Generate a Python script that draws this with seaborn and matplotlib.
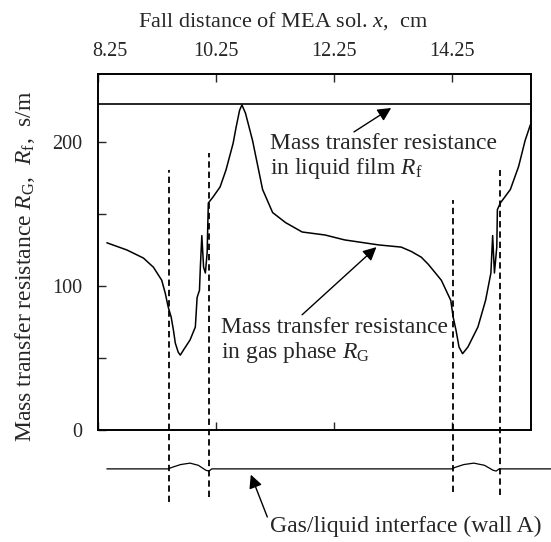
import matplotlib
matplotlib.use("Agg")
import matplotlib.pyplot as plt
import pandas as pd
import seaborn as sns
from matplotlib.transforms import ScaledTranslation

# ---- data ----
rg_x = [8.40, 8.74, 9.02, 9.19, 9.33, 9.39, 9.44, 9.49, 9.53, 9.56, 9.61, 9.645,
        9.70, 9.81, 9.90, 9.93, 9.97, 9.985, 10.01, 10.04, 10.07, 10.10, 10.12,
        10.20, 10.32, 10.42, 10.54, 10.59, 10.65, 10.69, 10.75, 10.87, 10.96,
        11.04, 11.21, 11.43, 11.71, 12.10, 12.43, 13.01, 13.39, 13.56, 13.73,
        13.85, 13.95, 14.07, 14.15, 14.23, 14.27, 14.32, 14.37, 14.43, 14.52,
        14.69, 14.82, 14.91, 14.94, 14.97, 15.01, 15.02, 15.07, 15.24, 15.38,
        15.49, 15.58]
rg_y = [130, 125, 119.4, 113, 104, 95, 85.4, 78.5, 69, 60.4, 54, 52,
        55.6, 62.5, 71.5, 92, 97, 113, 135, 113, 109, 123, 157.6,
        161.8, 168.8, 180.6, 199, 210, 222, 225.7, 220, 201, 183,
        167, 151, 144, 137.5, 135.4, 132, 128.5, 127, 124, 120,
        115, 110, 104, 97, 90, 78.5, 69, 57.6, 53, 57.6,
        71.5, 90, 109, 135, 109, 127, 153, 157.6, 167, 183,
        201, 212]
rf_level = 226.5

interface_x = [8.40, 9.44, 9.50, 9.65, 9.81, 9.95, 10.08, 10.13, 10.18,
               14.25, 14.30, 14.45, 14.62, 14.80, 14.95, 15.00, 15.05, 15.95]
interface_y = [-27, -27, -26, -24, -23, -24.5, -28, -28.5, -27,
               -27, -26, -24, -23, -24.5, -28, -28.5, -27, -27]

boundary_x = [9.46, 10.13, 14.27, 15.07]
boundary_top = [180.6, 192.0, 160.0, 180.6]
boundary_bottom = [-50.0, -46.5, -43.0, -45.0]

x_ticks = [8.25, 10.25, 12.25, 14.25]
x_tick_labels = ["8.25", "10.25", "12.25", "14.25"]
y_ticks = [0, 100, 200]
y_tick_labels = ["0", "100", "200"]
y_minor_ticks = [50, 150]

# ---- style ----
sns.set_style("ticks")
plt.rcParams["font.family"] = ["Liberation Serif", "DejaVu Serif"]
plt.rcParams["mathtext.fontset"] = "custom"
plt.rcParams["mathtext.rm"] = "Liberation Serif"
plt.rcParams["mathtext.it"] = "Liberation Serif:italic"
plt.rcParams["mathtext.bf"] = "Liberation Serif:bold"

fig = plt.figure(figsize=(5.51, 5.42), dpi=100)
ax = fig.add_axes([98 / 551, 1 - 430 / 542, 433 / 551, 356 / 542])

df = pd.DataFrame({"x": rg_x, "y": rg_y})
sns.lineplot(data=df, x="x", y="y", sort=False, estimator=None,
             color="black", lw=1.1, ax=ax)
ax.axhline(rf_level, color="black", lw=1.2)

sns.lineplot(x=interface_x, y=interface_y, sort=False, estimator=None,
             color="black", lw=0.9, ax=ax)
ax.lines[-1].set_clip_on(False)

ax.vlines(boundary_x, boundary_bottom, boundary_top, colors="black",
          linestyles=(0, (3.5, 2.2)), lw=1.3, clip_on=False)

ax.set_xlim(8.25, 15.59)
ax.set_ylim(0, 247.2)

ax.set_xticks(x_ticks)
ax.set_xticklabels(x_tick_labels)
ax.set_yticks(y_ticks)
ax.set_yticklabels(y_tick_labels)
ax.set_yticks(y_minor_ticks, minor=True)

ax.tick_params(axis="x", which="both", direction="in", top=True, bottom=True,
               labeltop=True, labelbottom=False, length=5.5, width=1,
               pad=9.5, labelsize=14.5)
ax.tick_params(axis="y", which="both", direction="in", left=True, right=False,
               length=5.5, width=1, pad=11, labelsize=14.5)
for s in ax.spines.values():
    s.set_linewidth(1.4)
    s.set_color("black")

ax.set_xlabel("Fall distance of MEA sol. $x$,  cm", fontsize=16)
ax.xaxis.set_label_position("top")
ax.xaxis.set_label_coords(0.427, 1.132)
ax.set_ylabel("Mass transfer resistance $R_\\mathrm{G}$,  $R_\\mathrm{f}$,  s/m",
              fontsize=17)
ax.yaxis.set_label_coords(-0.14, 0.46)

# shift first top label as in the reference
lbl = ax.xaxis.get_major_ticks()[0].label2
lbl.set_transform(lbl.get_transform() + ScaledTranslation(0.12, 0, fig.dpi_scale_trans))

# ---- annotations ----
arrow = dict(arrowstyle="-|>", color="black", lw=1.0, mutation_scale=20,
             shrinkA=0, shrinkB=0)
ax.text(11.17, 195, "Mass transfer resistance", fontsize=17, ha="left", va="baseline")
ax.text(11.17, 177.8, "in liquid film $R_\\mathrm{f}$", fontsize=17, ha="left", va="baseline")
ax.annotate("", xy=(13.22, 223.6), xytext=(12.59, 207), arrowprops=arrow)

ax.text(10.33, 67.4, "Mass transfer resistance", fontsize=17, ha="left", va="baseline")
ax.text(10.33, 50, "in gas phase $R_\\mathrm{G}$", fontsize=17, ha="left", va="baseline")
ax.annotate("", xy=(12.97, 127), xytext=(11.71, 80), arrowprops=arrow)

ax.text(11.16, -67, "Gas/liquid interface (wall A)", fontsize=17, ha="left",
        va="center", clip_on=False)
ax.annotate("", xy=(10.84, -31), xytext=(11.12, -60.4), arrowprops=arrow,
            annotation_clip=False)

fig.savefig("out.png", dpi=100)
